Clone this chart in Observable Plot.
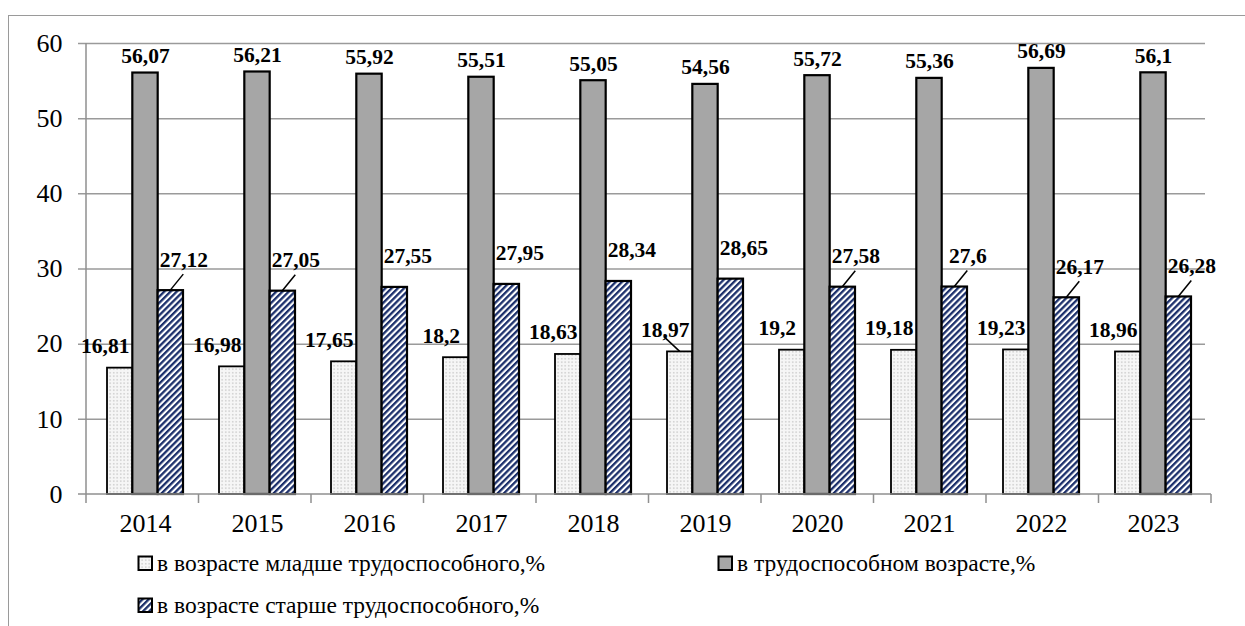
<!DOCTYPE html>
<html>
<head>
<meta charset="utf-8">
<script src="https://cdn.jsdelivr.net/npm/d3@7"></script>
<script src="https://cdn.jsdelivr.net/npm/@observablehq/plot@0.6"></script>
<style>
  html, body { margin: 0; padding: 0; background: white; }
  #wrap { position: relative; width: 1245px; height: 626px; overflow: hidden; font-family: "Liberation Serif", "Times New Roman", serif; }
  #frame { position: absolute; left: 8px; top: 15px; width: 1300px; height: 700px; border: 1.5px solid #9a9a9a; box-sizing: border-box; pointer-events: none; }
  #chart { position: absolute; left: 0; top: 0; }
  .leg { position: absolute; display: flex; align-items: center; font-size: 23.5px; color: #000; white-space: nowrap; }
  .leg svg { margin-right: 3px; }
</style>
</head>
<body>
<div id="wrap">
  <div id="chart"></div>
  <div id="legend"></div>
  <div id="frame"></div>
</div>
<script>
// ---- data ----
const years = [2014, 2015, 2016, 2017, 2018, 2019, 2020, 2021, 2022, 2023];
const younger = [16.81, 16.98, 17.65, 18.2, 18.63, 18.97, 19.2, 19.18, 19.23, 18.96];
const working = [56.07, 56.21, 55.92, 55.51, 55.05, 54.56, 55.72, 55.36, 56.69, 56.1];
const older = [27.12, 27.05, 27.55, 27.95, 28.34, 28.65, 27.58, 27.6, 26.17, 26.28];
const seriesNames = ["в возрасте младше трудоспособного,%", "в трудоспособном возрасте,%", "в возрасте старше трудоспособного,%"];
const yTicks = [0, 10, 20, 30, 40, 50, 60];
// label annotations (which labels carry a leader line)
const olderLeaders = [2014, 2015, 2020, 2021, 2022, 2023];
const youngerLeaders = [2019];

// ---- layout / style ----
const W = 1245, H = 540;
const mL = 86, mR = 34, mT = 43, mB = 46;
const padInner = 0.325;
const step = (W - mL - mR) / years.length;
const bw = step * (1 - padInner);
const barW = bw / 3;
const font = "'Liberation Serif', 'Times New Roman', serif";
const fmt = v => String(v).replace(".", ",");

const rowsY = years.map((year, i) => ({year, v: younger[i]}));
const rowsW = years.map((year, i) => ({year, v: working[i]}));
const rowsO = years.map((year, i) => ({year, v: older[i]}));

const labelStyle = {fontSize: 21.5, fontWeight: "bold", fontFamily: font, fill: "black", lineAnchor: "middle"};

const decor = (index, scales, values, dims) => {
  const {x, y} = scales;
  const g = d3.create("svg:g").attr("fill", "none");
  const axis = g.append("g").attr("stroke", "#8f8f8f").attr("stroke-width", 1.5);
  axis.append("line").attr("x1", dims.marginLeft).attr("x2", dims.marginLeft).attr("y1", y(60)).attr("y2", y(0));
  axis.append("line").attr("x1", dims.marginLeft - 8).attr("x2", dims.width - dims.marginRight).attr("y1", y(0)).attr("y2", y(0));
  const inner = (dims.width - dims.marginLeft - dims.marginRight) / years.length;
  d3.range(years.length + 1).forEach(i => {
    const xx = dims.marginLeft + i * inner;
    axis.append("line").attr("x1", xx).attr("x2", xx).attr("y1", y(0)).attr("y2", y(0) + 9);
  });
  const lead = g.append("g").attr("stroke", "black").attr("stroke-width", 1.5);
  years.forEach((yr, i) => {
    const bx = x(yr);
    if (olderLeaders.includes(yr)) {
      const x0 = bx + bw / 2 + barW, y0 = y(older[i]);
      lead.append("line").attr("x1", x0).attr("y1", y0).attr("x2", x0 + 13).attr("y2", y0 - 16);
    }
    if (youngerLeaders.includes(yr)) {
      const x0 = bx + bw / 2 - barW, y0 = y(younger[i]);
      lead.append("line").attr("x1", x0).attr("y1", y0).attr("x2", x0 - 16).attr("y2", y0 - 15);
    }
  });
  return g.node();
};

const chart = Plot.plot({
  width: W, height: H,
  marginLeft: mL, marginRight: mR, marginTop: mT, marginBottom: mB,
  style: {background: "transparent", fontFamily: font, fontSize: "26px", color: "black"},
  x: {type: "band", domain: years, paddingInner: padInner, paddingOuter: padInner / 2, tickSize: 0, tickPadding: 19, tickFormat: d => String(d), label: null},
  y: {domain: [0, 60], ticks: yTicks, tickSize: 0, tickPadding: 24, tickFormat: d => String(d), label: null},
  marks: [
    Plot.ruleY(yTicks.filter(d => d > 0), {y: d => d, stroke: "#9a9a9a", strokeWidth: 1.5, insetLeft: -8, insetRight: 6}),
    Plot.barY(rowsY, {x: "year", y: "v", fill: "url(#dots)", stroke: "black", strokeWidth: 1.8, insetRight: 2 * barW}),
    Plot.barY(rowsW, {x: "year", y: "v", fill: "#a6a6a6", stroke: "black", strokeWidth: 2.2, insetLeft: barW, insetRight: barW}),
    Plot.barY(rowsO, {x: "year", y: "v", fill: "url(#hatch)", stroke: "black", strokeWidth: 2.2, insetLeft: 2 * barW}),
    decor,
    Plot.text(rowsW, {x: "year", y: "v", text: d => fmt(d.v), dy: -17, ...labelStyle}),
    Plot.text(rowsY, {x: "year", y: "v", text: d => fmt(d.v), dx: -barW - 15, dy: -22, ...labelStyle}),
    Plot.text(rowsO, {x: "year", y: "v", text: d => fmt(d.v), dx: barW + 13, dy: -31, ...labelStyle})
  ]
});

const defs = d3.select(chart).insert("defs", ":first-child");
const hatch = defs.append("pattern").attr("id", "hatch").attr("patternUnits", "userSpaceOnUse")
  .attr("width", 4.4).attr("height", 4.4).attr("patternTransform", "rotate(45)");
hatch.append("rect").attr("width", 4.4).attr("height", 4.4).attr("fill", "white");
hatch.append("rect").attr("width", 2.3).attr("height", 4.4).attr("fill", "#1b2f6b");
const dots = defs.append("pattern").attr("id", "dots").attr("patternUnits", "userSpaceOnUse")
  .attr("width", 3.5).attr("height", 3.5);
dots.append("rect").attr("width", 3.5).attr("height", 3.5).attr("fill", "#f6f6f6");
dots.append("rect").attr("x", 1).attr("y", 1).attr("width", 1.4).attr("height", 1.4).attr("fill", "#c6c6c6");

document.getElementById("chart").appendChild(chart);

const legendItems = [
  {name: seriesNames[0], fill: "url(#dots)", left: 137, top: 563},
  {name: seriesNames[1], fill: "#a6a6a6", left: 717, top: 563},
  {name: seriesNames[2], fill: "url(#hatch)", left: 137, top: 605}
];
const legend = d3.select("#legend");
legendItems.forEach(it => {
  const div = legend.append("div").attr("class", "leg")
    .style("left", it.left + "px").style("top", (it.top - 15) + "px").style("height", "30px");
  const s = div.append("svg").attr("width", 17).attr("height", 17);
  s.append("rect").attr("x", 1.5).attr("y", 1.5).attr("width", 13.5).attr("height", 13.5)
    .attr("fill", it.fill).attr("stroke", "black").attr("stroke-width", 2);
  div.append("span").text(it.name);
});
</script>
</body>
</html>
